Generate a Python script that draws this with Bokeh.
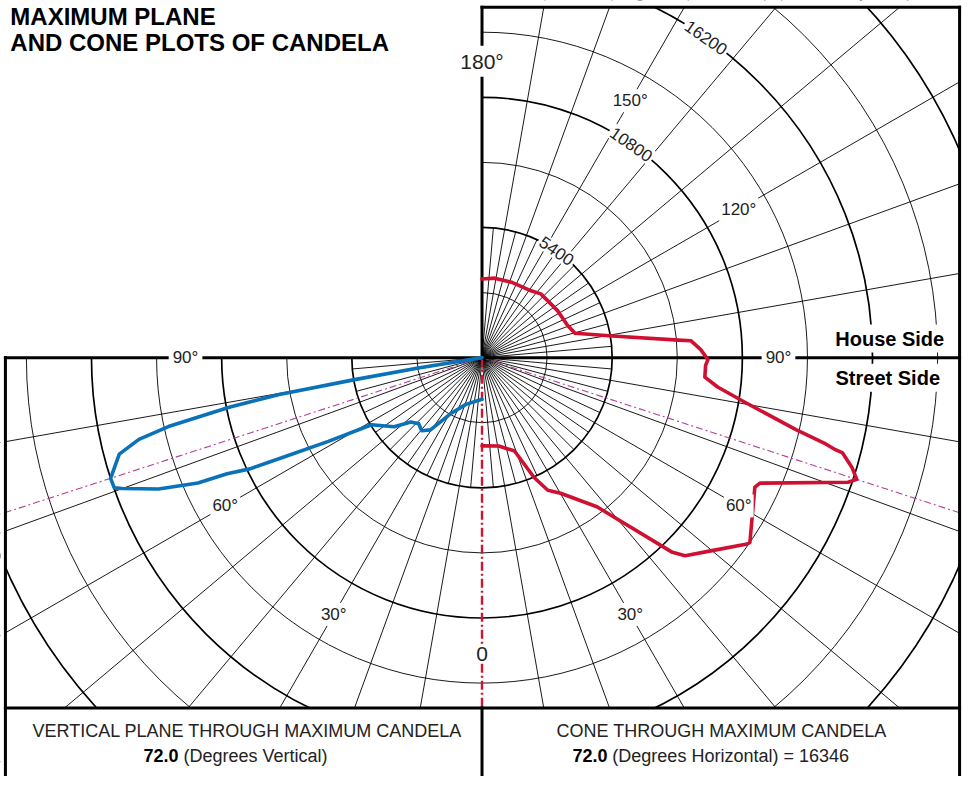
import numpy as np
from bokeh.plotting import figure
from bokeh.models import Range1d, Label
from bokeh.embed import file_html
from bokeh.resources import INLINE

# ---------------- data ----------------
ring_step = 2700                      # candela per ring
ring_count = 8
ring_label_text = ["5400", "10800", "16200"]
ring_label_value = [5400, 10800, 16200]
ring_label_angle = 145                # degrees (horizontal side)

vert_tick_angles = [0, 30, 60, 90]    # left (vertical plane)
vert_tick_text = ["0", "30°", "60°", "90°"]
horz_tick_angles = [30, 60, 90, 120, 150, 180]
horz_tick_text = ["30°", "60°", "90°", "120°", "150°", "180°"]

# vertical plane through max candela (blue), vertical angle vs candela
vert_angles = [0, 19, 29.5, 35.5, 39.5, 43.7, 47.9, 51.8, 58.7, 61.4, 63.3, 64.4,
               65.5, 66.2, 67.9, 70.0, 70.5, 72.0, 75.1, 76.6, 77.6, 78.9, 79.7,
               80.2, 80.8, 90]
vert_cd = [1730, 2050, 2690, 3680, 3930, 3800, 3980, 4640, 5360, 7260, 9100, 10680,
           11620, 12880, 14480, 15880, 16180, 16200, 15570, 14630, 13320, 10650, 8550,
           5360, 2680, 0]

# cone through max candela (red), horizontal angle vs candela
horz_angles = [0, 10.7, 19.2, 23.5, 26.4, 30.1, 37.6, 44.3, 45.7, 49.8, 54.9, 55.4,
               64.6, 65.7, 71.2, 72.0, 73.5, 75.2, 75.4, 75.9, 77.1, 80.4, 82.9, 85,
               88, 89.5, 92.1, 94.6, 95.1, 99.4, 104.7, 110.8, 121.9, 137.3, 143.7,
               158.7, 170.9, 180]
horz_cd = [3660, 3730, 4100, 5420, 6140, 6500, 7810, 11260, 11770, 12420, 13440, 13500,
           12530, 12650, 16040, 16346, 16000, 15470, 15150, 14700, 13360, 11040, 9850,
           9280, 9280, 9370, 9080, 8700, 8180, 5490, 3990, 3790, 3690, 3600, 3440,
           3360, 3340, 3260]

max_angle = 72.0

# ---------------- layout ----------------
W, H = 964, 776
REF_W, REF_H = 980, 792
SX, SY = W / REF_W, H / REF_H
S = (SX + SY) / 2
PX_PER_RING = 66.3                    # reference pixels per ring
k = ring_step / (PX_PER_RING * S)     # candela per figure pixel
CX, CY = 489.5, 364.5                 # reference position of the pole
cfx, cfy = CX * SX, CY * SY

def P(X, Y):
    return ((X * SX - cfx) * k, (cfy - Y * SY) * k)

FONT = "Liberation Sans"

p = figure(width=W, height=H,
           x_range=Range1d(-cfx * k, (W - cfx) * k),
           y_range=Range1d((cfy - H) * k, cfy * k),
           output_backend="svg", toolbar_location=None, min_border=0,
           x_axis_location=None, y_axis_location=None)
p.grid.visible = False
p.outline_line_color = None
p.background_fill_color = "white"
p.border_fill_color = "white"

def right_xy(ang, r):
    a = np.radians(np.asarray(ang, dtype=float))
    r = np.asarray(r, dtype=float)
    return r * np.sin(a), -r * np.cos(a)

def left_xy(ang, r):
    a = np.radians(np.asarray(ang, dtype=float))
    r = np.asarray(r, dtype=float)
    return -r * np.sin(a), -r * np.cos(a)

# rings
radii = [ring_step * (i + 1) for i in range(ring_count)]
widths = [1.7 if (i + 1) % 2 == 0 else 0.9 for i in range(ring_count)]
p.arc(x=[0] * ring_count, y=[0] * ring_count, radius=radii,
      start_angle=np.pi, end_angle=np.pi / 2, direction="anticlock",
      line_color="black", line_width=widths)

# radial lines
far = ring_step * 12
near = ring_step * 2
x0, y0, x1, y1 = [], [], [], []
for a in range(5, 180, 5):
    if a == 90:
        continue
    r = far if a % 10 == 0 else near
    ex, ey = right_xy([a], [r])
    x0.append(0); y0.append(0); x1.append(ex[0]); y1.append(ey[0])
for a in range(5, 90, 5):
    r = far if a % 10 == 0 else near
    ex, ey = left_xy([a], [r])
    x0.append(0); y0.append(0); x1.append(ex[0]); y1.append(ey[0])
p.segment(x0=x0, y0=y0, x1=x1, y1=y1, line_color="black", line_width=0.9)

# max-candela reference lines (magenta dash-dot)
mx, my = right_xy([max_angle], [far])
lx, ly = left_xy([max_angle], [far])
for ex, ey in ((mx[0], my[0]), (lx[0], ly[0])):
    p.line(x=[0, ex], y=[0, ey], line_color="#b23f9c", line_width=1.1,
           line_dash="7 3 2 3")

LEFT, RIGHT, TOP, BOT = 5, 975, 7, 722

# white masks outside the chart boxes (clip grid)
masks = [(0, REF_W, BOT, REF_H),          # bottom text panel
         (RIGHT, REF_W, 0, REF_H),        # right margin
         (CX, REF_W, 0, TOP),             # top margin
         (0, LEFT, CY, REF_H)]            # left margin
ql, qr, qt, qb = [], [], [], []
for XA, XB, YA, YB in masks:
    a = P(XA, YA); b = P(XB, YB)
    ql.append(a[0]); qr.append(b[0]); qt.append(a[1]); qb.append(b[1])
p.quad(left=ql, right=qr, top=qt, bottom=qb, fill_color="white", line_color=None)

# red nadir line
zx, zy = P(CX, BOT)
p.line(x=[0, 0], y=[0, zy], line_color="#cc1533", line_width=2.4, line_dash="9 3 2 3")

# frame lines
def seg(XA, YA, XB, YB, w=3):
    a = P(XA, YA); b = P(XB, YB)
    p.line(x=[a[0], b[0]], y=[a[1], b[1]], line_color="black", line_width=w, line_cap="square")

seg(CX, TOP, RIGHT, TOP)
seg(CX, TOP, CX, CY)
seg(LEFT, CY, RIGHT, CY)
seg(LEFT, CY, LEFT, REF_H)
seg(RIGHT, TOP, RIGHT, REF_H)
seg(LEFT, BOT, RIGHT, BOT)
seg(CX, BOT, CX, REF_H)

# curves
bx, by = left_xy(vert_angles, vert_cd)
p.line(x=bx, y=by, line_color="#0a72b8", line_width=3.6, line_join="round", line_cap="round")
rx, ry = right_xy(horz_angles, horz_cd)
p.line(x=rx, y=ry, line_color="#cf1030", line_width=3.6, line_join="round", line_cap="round")

# labels
def lab(x, y, text, size, bold=False, angle=0.0, align="center", baseline="middle",
        bg="white", color="#222222", pad=0):
    p.add_layout(Label(x=x, y=y, text=text, text_font=FONT, text_font_size=f"{size}px",
                       text_font_style="bold" if bold else "normal", angle=angle,
                       text_align=align, text_baseline=baseline, padding=pad,
                       background_fill_color=bg, text_color=color))

LABEL_R = 302 * ring_step / PX_PER_RING
for a, t in zip(vert_tick_angles, vert_tick_text):
    x, y = left_xy([a], [LABEL_R])
    size = 21 if t == "0" else 17
    lab(x[0], y[0], t, size, pad=4 if a == 90 else 2)
for a, t in zip(horz_tick_angles, horz_tick_text):
    x, y = right_xy([a], [LABEL_R])
    size = 21 if a == 180 else 17
    lab(x[0], y[0], t, size, pad=4 if a in (90, 180) else 2)

for v, t in zip(ring_label_value, ring_label_text):
    x, y = right_xy([ring_label_angle], [v])
    lab(x[0], y[0], t, 17, angle=-np.radians(180 - ring_label_angle), pad=2)

hx, hy = P(904, 345)
lab(hx, hy, "House Side", 20, bold=True, color="black", pad=3)
sx, sy = P(902, 385)
lab(sx, sy, "Street Side", 20, bold=True, color="black", pad=3)

t1x, t1y = P(10, 16)
lab(t1x, t1y, "MAXIMUM PLANE", 24, bold=True, align="left", baseline="alphabetic",
    bg=None, color="black")
t2x, t2y = P(10, 43)
lab(t2x, t2y, "AND CONE PLOTS OF CANDELA", 24, bold=True, align="left",
    baseline="alphabetic", bg=None, color="black")

# bottom panel texts
ax_, ay_ = P(251, 746)
lab(ax_, ay_, "VERTICAL PLANE THROUGH MAXIMUM CANDELA", 18, bg=None)
bxs, bys = P(181, 771)
lab(bxs, bys, f"{max_angle:.1f}", 18, bold=True, align="right", bg=None, color="black")
nxs, nys = P(186, 771)
lab(nxs, nys, "(Degrees Vertical)", 18, align="left", bg=None)

cx_, cy_ = P(733, 746)
lab(cx_, cy_, "CONE THROUGH MAXIMUM CANDELA", 18, bg=None)
bxs2, bys2 = P(617, 771)
lab(bxs2, bys2, f"{max_angle:.1f}", 18, bold=True, align="right", bg=None, color="black")
nxs2, nys2 = P(622, 771)
lab(nxs2, nys2, f"(Degrees Horizontal) = {max(horz_cd)}", 18, align="left", bg=None)

open("out.html", "w").write(file_html(p, INLINE))
